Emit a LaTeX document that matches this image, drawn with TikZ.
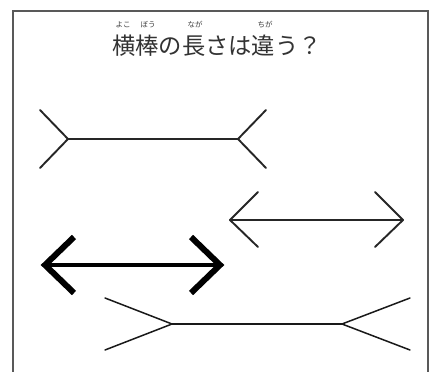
\documentclass[tikz,border=0pt]{standalone}
\usepackage{fontspec}
\newfontfamily\cjk{Noto Sans CJK JP}
\begin{document}
\begin{tikzpicture}[x=1pt,y=-1pt,
  frameline/.style={draw=black!65,line width=2pt},
  thinfig/.style={draw=black!85,line width=1.9pt,line cap=round,line join=round},
  finefig/.style={draw=black!90,line width=1.5pt,line cap=round,line join=round},
  boldhead/.style={draw=black,line width=6pt,line join=miter},
  boldshaft/.style={draw=black,line width=4.5pt},
  titletext/.style={font=\cjk\fontsize{23.3}{25}\selectfont,text=black!80,inner sep=0pt,anchor=base west},
  rubytext/.style={font=\cjk\fontsize{7.5}{8}\selectfont,text=black!75,inner sep=0pt}]
\useasboundingbox (0,0) rectangle (432,372);
\fill[white] (0,0) rectangle (432,372);
% frame (open at bottom)
\draw[frameline] (13,380) -- (13,11) -- (428,11) -- (428,380);
% title
\node[titletext] (title) at (112,55) {横棒の長さは違う？};
\node[rubytext] (r1) at (123,25) {よこ};
\node[rubytext] (r2) at (148,25) {ぼう};
\node[rubytext] (r3) at (195,25) {なが};
\node[rubytext] (r4) at (265,25) {ちが};
% figure 1: fins outward
\coordinate (a1) at (68,139);
\coordinate (a2) at (238,139);
\draw[thinfig] (40,110) -- (a1) -- (40,168);
\draw[thinfig] (a1) -- (a2);
\draw[thinfig] (266,110) -- (a2) -- (266,168);
% figure 2: thin arrow
\coordinate (b1) at (230,220);
\coordinate (b2) at (403,220);
\draw[thinfig] (258,192) -- (b1) -- (258,247);
\draw[thinfig] (b1) -- (b2);
\draw[thinfig] (375,192) -- (b2) -- (375,247);
% figure 3: bold arrow
\coordinate (c1) at (45,265);
\coordinate (c2) at (220,265);
\draw[boldshaft] (c1) -- (c2);
\draw[boldhead] (74,237) -- (c1) -- (74,293);
\draw[boldhead] (191,237) -- (c2) -- (191,293);
% figure 4: long fins
\coordinate (d1) at (172,324);
\coordinate (d2) at (342,324);
\draw[finefig] (105,298) -- (d1) -- (105,350);
\draw[finefig] (d1) -- (d2);
\draw[finefig] (410,298) -- (d2) -- (410,350);
\end{tikzpicture}
\end{document}
